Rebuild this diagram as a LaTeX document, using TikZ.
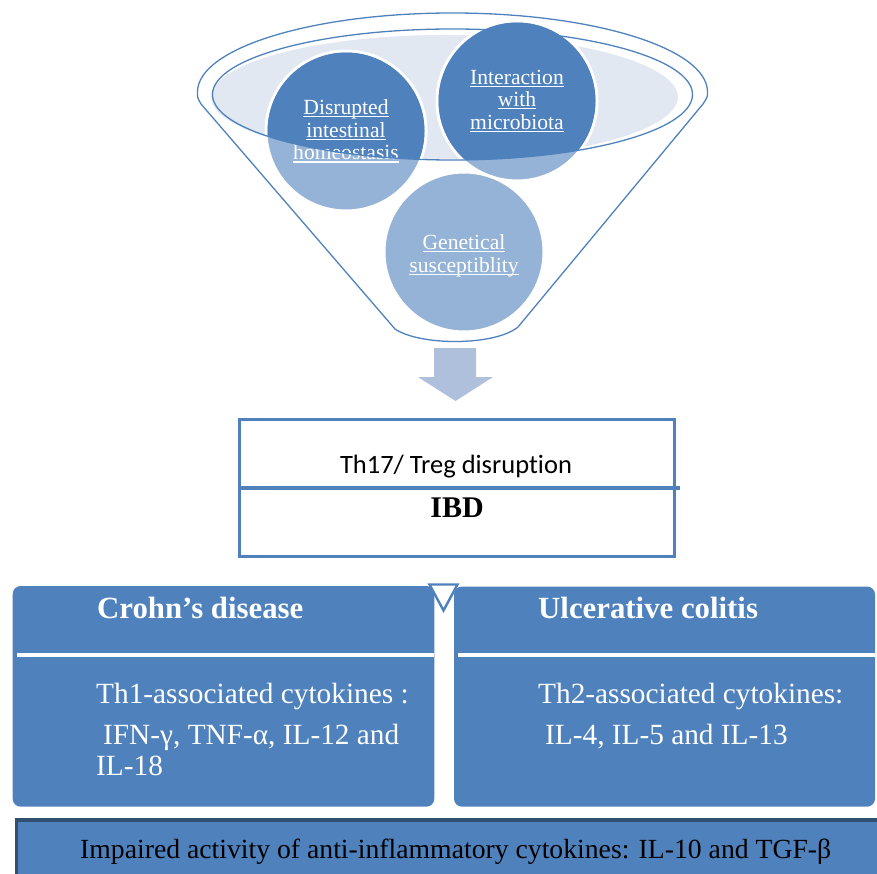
\documentclass[tikz,border=0pt]{standalone}
\usepackage{fontspec}
\setmainfont{Liberation Serif}
\newfontfamily\calibrifont[Ligatures={NoCommon,NoContextual}]{Carlito}
\usepackage{tikz}
\usetikzlibrary{positioning}

\definecolor{boxblue}{RGB}{79,129,189}
\definecolor{paleblue}{RGB}{149,179,215}
\definecolor{rimfill}{RGB}{226,232,242}
\definecolor{arrowblue}{RGB}{175,192,221}
\definecolor{navyline}{RGB}{50,78,112}

\newcommand{\ulw}[1]{\setbox0\hbox{#1}\rlap{\rule[-2.6pt]{\wd0}{1.1pt}}\box0}

\begin{document}
\begin{tikzpicture}[x=1pt, y=1pt,
      bubble/.style={circle, minimum size=160pt, inner sep=0pt, fill=paleblue, draw=white, line width=3pt},
      bubbletext/.style={text=white, align=center, font=\fontsize{21.6}{22.8}\selectfont},
      panel/.style={rectangle, rounded corners=8pt, fill=boxblue, inner sep=0pt},
      title/.style={anchor=base west, inner sep=0pt, text=white, font=\bfseries\fontsize{30.8}{32}\selectfont},
      body/.style={anchor=base west, inner sep=0pt, text=white, font=\fontsize{29.3}{31}\selectfont}]
  \useasboundingbox (0,0) rectangle (877,-874);

  % funnel top
  \fill[rimfill, draw=white, line width=2pt] (444.5,-97) ellipse [x radius=234.5pt, y radius=63pt];
  \node[bubble] (dis) at (346,-131) {};
  \node[bubble] (mic) at (517,-101) {};
  \node[bubble] (gen) at (464,-252) {};
  \begin{scope}
    \clip (212.5,-94.5) -- (212.5,0) -- (692.5,0) -- (692.5,-94.5)
      arc[start angle=0, end angle=-180, x radius=240pt, y radius=65.5pt] -- cycle;
    \fill[boxblue] (dis.center) circle (78.5pt) (mic.center) circle (78.5pt);
  \end{scope}
  \node[bubbletext] (dist) at (dis.center) {\ulw{Disrupted}\\\ulw{intestinal}\\\ulw{homeostasis}};
  \node[bubbletext] (mict) at (mic.center) {\ulw{Interaction}\\\ulw{with}\\\ulw{microbiota}};
  \node[bubbletext] (gent) at ([yshift=-4pt]gen.center) {\ulw{Genetical}\\\ulw{susceptiblity}};
  \draw[boxblue, line width=1.3pt] (452.5,-94.5) ellipse [x radius=240pt, y radius=65.5pt];
  \draw[boxblue, line width=1.3pt, line join=round] (197.5,-92)
    arc[start angle=180, end angle=0, x radius=255pt, y radius=79pt]
    .. controls (707.5,-97) .. (703,-104) -- (518,-327)
    .. controls (495,-346) and (420,-346) .. (395,-329)
    -- (201,-104) .. controls (197.5,-98) .. cycle;

  % arrow
  \fill[arrowblue] (434,-348) -- (476,-348) -- (476,-377) -- (493,-377) -- (455.5,-401)
    -- (418,-377) -- (434,-377) -- cycle;

  \node[draw=boxblue, line width=3pt, minimum width=434.7pt, minimum height=137pt, inner sep=0pt] (ibd) at (457.2,-488.3) {};
  \draw[boxblue, line width=4pt] (ibd.west) -- ([xshift=3.5pt]ibd.east);
  \node[anchor=base, font=\calibrifont\fontsize{26.5}{28}\selectfont] (th17) at (456,-473) {Th17/ Treg disruption};
  \node[anchor=base, font=\bfseries\fontsize{30}{32}\selectfont] (ibdt) at (457,-517) {IBD};

  % disease panels
  \node[panel, minimum width=421.6pt, minimum height=220.7pt] (cd) at (223.5,-696.35) {};
  \node[panel, minimum width=421pt, minimum height=220.2pt] (uc) at (664.5,-696.6) {};
  \draw[white, line width=4pt] (17,-654.7) -- (434.3,-654.7);
  \draw[white, line width=4pt] (458.3,-654.7) -- (875,-654.7);
  \draw[boxblue, line width=2.4pt, fill=white] (429.5,-584.5) -- (457.5,-584.5) -- (443.5,-610.5) -- cycle;

  \node[title] (cdt) at (97,-618) {Crohn’s disease};
  \node[body] (th1) at (96,-703) {Th1-associated cytokines :};
  \node[body] (ifn) at (103,-744) {IFN-γ, TNF-α, IL-12 and};
  \node[body] (il18) at (96,-775) {IL-18};
  \node[title] (uct) at (538,-618) {Ulcerative colitis};
  \node[body] (th2) at (538,-703) {Th2-associated cytokines:};
  \node[body] (il4) at (545,-744) {IL-4, IL-5 and IL-13};

  % bottom bar
  \fill[boxblue] (15,-818.3) rectangle (877,-874);
  \draw[navyline, line width=3.3pt] (16.65,-874) -- (16.65,-819.95) -- (877,-819.95);
  \node[anchor=base west, inner sep=0pt, font=\fontsize{27.7}{30}\selectfont] (imp) at (80,-858)
    {Impaired activity of anti-inflammatory cytokines: IL-10 and TGF-β};
\end{tikzpicture}
\end{document}
